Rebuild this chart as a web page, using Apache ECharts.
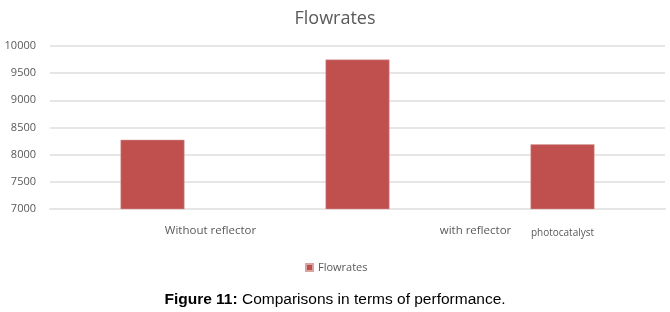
<!DOCTYPE html>
<html>
<head>
<meta charset="utf-8">
<script src="https://cdn.jsdelivr.net/npm/echarts@6/dist/echarts.min.js"></script>
<style>html,body{margin:0;padding:0;background:#fff}#c{width:670px;height:312px}</style>
</head>
<body>
<div id="c"></div>
<script>
const categories = ["Without reflector", "with reflector", "photocatalyst"];
const flowrates = [8275, 9750, 8190];
const yTicks = [7000, 7500, 8000, 8500, 9000, 9500, 10000];

const labelStyles = [
  { padding: [1, 0, 0, 116], fontSize: 11.5 },
  { padding: [1, 0, 0, 236], fontSize: 11.5 },
  { padding: [4, 0, 0, 0], fontSize: 10 }
];

const chart = echarts.init(document.getElementById('c'));
chart.setOption({
  animation: false,
  backgroundColor: '#fff',
  title: [
    { text: 'Flowrates', left: 'center', top: 5,
      textStyle: { fontFamily: 'Open Sans', fontSize: 18, fontWeight: 'normal', color: '#595959' } },
    { text: '{b|Figure 11:} Comparisons in terms of performance.', left: 'center', top: 287,
      textStyle: { rich: {
        b: { fontFamily: 'Liberation Sans', fontSize: 15.5, fontWeight: 'bold', color: '#000' }
      }, fontFamily: 'Liberation Sans', fontSize: 15.5, fontWeight: 'normal', color: '#000' } }
  ],
  legend: {
    left: 300, top: 257,
    itemWidth: 7, itemHeight: 7, itemGap: 3,
    icon: 'rect',
    textStyle: { fontFamily: 'Open Sans', fontSize: 11, color: '#595959', padding: [3, 0, 0, 0] },
    data: ['Flowrates']
  },
  grid: { left: 50, right: 5, top: 46, bottom: 103 },
  xAxis: {
    type: 'category',
    data: categories.map((c, i) => ({ value: c, textStyle: labelStyles[i] })),
    axisTick: { show: false },
    axisLine: { lineStyle: { color: '#e6e6e6', width: 2 } },
    axisLabel: { fontFamily: 'Open Sans', color: '#595959', margin: 15, interval: 0 }
  },
  yAxis: {
    type: 'value', min: yTicks[0], max: yTicks[yTicks.length - 1], interval: 500,
    axisLine: { show: false }, axisTick: { show: false },
    axisLabel: { fontFamily: 'Open Sans', fontSize: 11, color: '#595959', margin: 14,
      formatter: v => String(v) },
    splitLine: { lineStyle: { color: '#e6e6e6', width: 2 } }
  },
  series: [{
    name: 'Flowrates', type: 'bar', data: flowrates, barWidth: 64,
    itemStyle: { color: '#c0504d', borderColor: '#d9a3a2', borderWidth: 0.5 }
  }]
});
</script>
</body>
</html>
